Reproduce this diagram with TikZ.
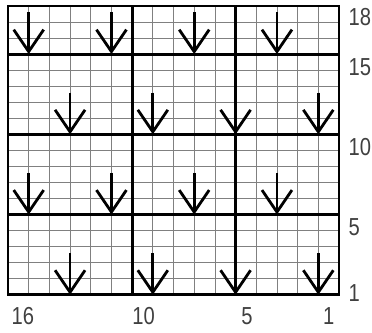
\documentclass[tikz,border=0pt]{standalone}
\usepackage{fontspec}
\newfontfamily\chartfont[FakeStretch=0.82]{Liberation Sans}
\usetikzlibrary{arrows.meta}

\begin{document}
\begin{tikzpicture}[
  x=5.175mm, y=4.0125mm,
  fine/.style={draw=black!50, line width=0.55pt},
  heavy/.style={draw=black, line width=2pt},
  stitch/.style={-{Straight Barb[length=5.5mm, width=7.5mm]}, line width=2pt},
  num/.style={font=\chartfont\fontsize{17.5}{17.5}\selectfont, text=black!75, inner sep=0pt}
]
\useasboundingbox (-0.3865,-2.3676) rectangle (17.594,18.374);

% chart grid
\draw[fine, step={(1,1)}] (0,0) grid (16,18);
\draw[heavy] (6,0) -- (6,18);
\draw[heavy] (11,0) -- (11,18);
\draw[heavy] (0,5) -- (16,5);
\draw[heavy] (0,10) -- (16,10);
\draw[heavy] (0,15) -- (16,15);
\draw[heavy] (0,0) rectangle (16,18);

% stitch symbols
\draw[stitch] (1,17.6) -- (1,15);
\draw[stitch] (5,17.6) -- (5,15);
\draw[stitch] (9,17.6) -- (9,15);
\draw[stitch] (13,17.6) -- (13,15);
\draw[stitch] (3,12.6) -- (3,10);
\draw[stitch] (7,12.6) -- (7,10);
\draw[stitch] (11,12.6) -- (11,10);
\draw[stitch] (15,12.6) -- (15,10);
\draw[stitch] (1,7.6) -- (1,5);
\draw[stitch] (5,7.6) -- (5,5);
\draw[stitch] (9,7.6) -- (9,5);
\draw[stitch] (13,7.6) -- (13,5);
\draw[stitch] (3,2.6) -- (3,0);
\draw[stitch] (7,2.6) -- (7,0);
\draw[stitch] (11,2.6) -- (11,0);
\draw[stitch] (15,2.6) -- (15,0);

% row numbers
\node[num, anchor=west] (row18) at (16.45,17.3) {18};
\node[num, anchor=west] (row15) at (16.45,14.2) {15};
\node[num, anchor=west] (row10) at (16.45,9.2) {10};
\node[num, anchor=west] (row5) at (16.45,4.2) {5};
\node[num, anchor=west] (row1) at (16.45,0.1) {1};

% stitch numbers
\node[num] (col16) at (0.72,-1.35) {16};
\node[num] (col10) at (6.55,-1.35) {10};
\node[num] (col5) at (11.55,-1.35) {5};
\node[num] (col1) at (15.5,-1.35) {1};
\end{tikzpicture}
\end{document}
